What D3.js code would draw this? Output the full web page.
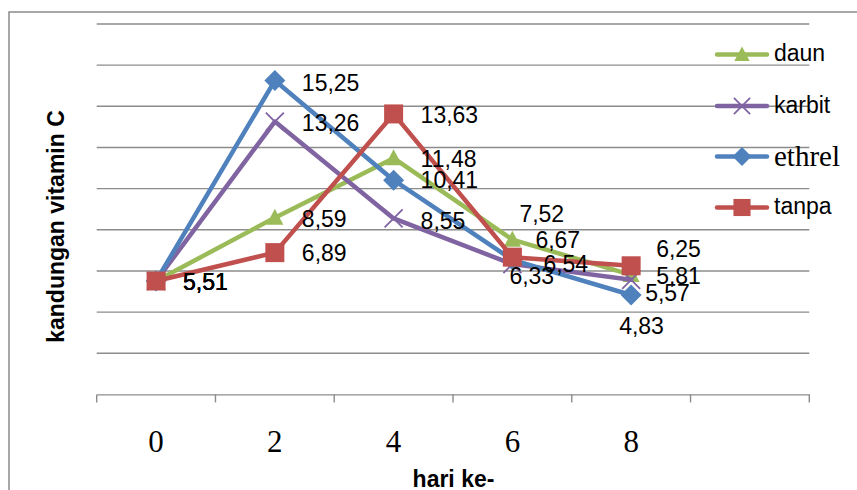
<!DOCTYPE html>
<html><head><meta charset="utf-8">
<script src="https://cdn.jsdelivr.net/npm/d3@7"></script>
<style>body{margin:0;background:#fff}svg{display:block}</style>
</head><body>
<svg id="c" width="857" height="490"></svg>
<script>
// ---- data ----
const categories = ["0","2","4","6","8",""];
const seriesNames = ["daun","karbit","ethrel","tanpa"];
const daun   = [5.51, 8.59, 11.48, 7.52, 5.81];
const karbit = [5.51, 13.26, 8.55, 6.33, 5.57];
const ethrel = [5.51, 15.25, 10.41, 6.54, 4.83];
const tanpa  = [5.51, 6.89, 13.63, 6.67, 6.25];
const yTicks = [0,2,4,6,8,10,12,14,16,18];
const xTitle = "hari ke-";
const yTitle = "kandungan vitamin C";

// ---- layout / style ----
const colors = {daun:"#9BBB59", karbit:"#8064A2", ethrel:"#4F81BD", tanpa:"#C0504D"};
const markers = {daun:"tri", karbit:"x", ethrel:"dia", tanpa:"sq"};
// label offsets (dx to text start, dy to text centre) per series per category
const labelOffsets = {
  daun:   [[27,1],[27,1],[27,1],[7,-26],[25,1]],
  karbit: [[27,1],[27,1.5],[27,2],[-3,12],[14,13]],
  ethrel: [[27,1],[27,2.5],[27,0],[31,4],[-12,31]],
  tanpa:  [[27,1],[27,0.5],[27,1],[23,-17.5],[25,-17]]
};
const data = {daun, karbit, ethrel, tanpa};

const svg = d3.select("#c");
const sans = "'Liberation Sans', Arial, sans-serif";
const serif = "'Liberation Serif', 'Times New Roman', serif";

// chart frame
svg.append("rect").attr("x",9).attr("y",12).attr("width",900).attr("height",500)
  .attr("fill","none").attr("stroke","#8a8a8a").attr("stroke-width",1.5);

const x = d3.scaleBand().domain(categories).range([96.7, 809.3]);
const y = d3.scaleLinear().domain([0,18]).range([394.4, 24]);

// gridlines
svg.append("g").selectAll("line").data(yTicks.filter(d=>d>0)).join("line")
  .attr("x1",96.7).attr("x2",809.3)
  .attr("y1",d=>y(d)).attr("y2",d=>y(d))
  .attr("stroke","#8c8c8c").attr("stroke-width",1.4);

// x axis
const xAxis = d3.axisBottom(x).tickSize(0).tickSizeOuter(0);
const gx = svg.append("g").attr("transform",`translate(0,${y(0)})`).call(xAxis);
gx.select(".domain").attr("stroke","#8c8c8c").attr("stroke-width",1.4);
gx.selectAll(".tick text").attr("font-family",serif).attr("font-size",31)
  .attr("fill","#000").attr("y",58).attr("dy",0);
// boundary ticks
const bounds = categories.map(c=>x(c)).concat([x.range()[1]]);
svg.append("g").selectAll("line").data(bounds).join("line")
  .attr("x1",d=>d).attr("x2",d=>d).attr("y1",y(0)).attr("y2",y(0)+8)
  .attr("stroke","#8c8c8c").attr("stroke-width",1.4);

// titles
svg.append("text").attr("x",453.5).attr("y",486.5).attr("text-anchor","middle")
  .attr("font-family",sans).attr("font-weight","bold").attr("font-size",23).text(xTitle);
svg.append("text").attr("transform","translate(64,226.5) rotate(-90)").attr("text-anchor","middle")
  .attr("font-family",sans).attr("font-weight","bold").attr("font-size",23).text(yTitle);

function drawMarker(g, type, cx, cy, color, s) {
  s = s || 1;
  if (type==="tri") {
    const w=17*s, h=16*s;
    g.append("path").attr("d",`M${cx},${cy-h*0.55} L${cx+w/2},${cy+h*0.45} L${cx-w/2},${cy+h*0.45} Z`).attr("fill",color);
  } else if (type==="sq") {
    const a=19*s;
    g.append("rect").attr("x",cx-a/2).attr("y",cy-a/2).attr("width",a).attr("height",a).attr("fill",color);
  } else if (type==="dia") {
    const r=10.5*s;
    g.append("path").attr("d",`M${cx},${cy-r} L${cx+r},${cy} L${cx},${cy+r} L${cx-r},${cy} Z`).attr("fill",color);
  } else if (type==="x") {
    const r=9*s;
    g.append("path").attr("d",`M${cx-r},${cy-r} L${cx+r},${cy+r} M${cx+r},${cy-r} L${cx-r},${cy+r}`)
      .attr("stroke",color).attr("stroke-width",1.8).attr("fill","none");
  }
}

const cx = i => x(categories[i]) + x.bandwidth()/2;
const line = d3.line().x((d,i)=>cx(i)).y(d=>y(d));

seriesNames.forEach(name=>{
  const g = svg.append("g");
  g.append("path").datum(data[name]).attr("d",line).attr("fill","none")
    .attr("stroke",colors[name]).attr("stroke-width",4.5).attr("stroke-linejoin","round").attr("stroke-linecap","round");
  data[name].forEach((v,i)=>drawMarker(g, markers[name], cx(i), y(v), colors[name]));
});

// data labels
const lg = svg.append("g").attr("font-family",sans).attr("font-size",23).attr("fill","#000");
seriesNames.forEach(name=>{
  data[name].forEach((v,i)=>{
    const o = labelOffsets[name][i];
    lg.append("text").attr("x",cx(i)+o[0]).attr("y",y(v)+o[1]).attr("dy","0.36em")
      .text(v.toFixed(2).replace(".",","));
  });
});

// legend
const legY = [54.5, 106, 156.5, 207.5];
const leg = svg.append("g");
seriesNames.forEach((name,k)=>{
  const ly = legY[k];
  leg.append("line").attr("x1",717).attr("x2",767).attr("y1",ly).attr("y2",ly)
    .attr("stroke",colors[name]).attr("stroke-width",4.5).attr("stroke-linecap","round");
  drawMarker(leg, markers[name], 742, ly, colors[name], 0.9);
  leg.append("text").attr("x",774).attr("y",ly).attr("dy", name==="ethrel" ? "0.33em" : "0.3em")
    .attr("font-family", name==="ethrel" ? serif : sans)
    .attr("font-size", name==="ethrel" ? 29 : 23).text(name);
});
</script>
</body></html>
